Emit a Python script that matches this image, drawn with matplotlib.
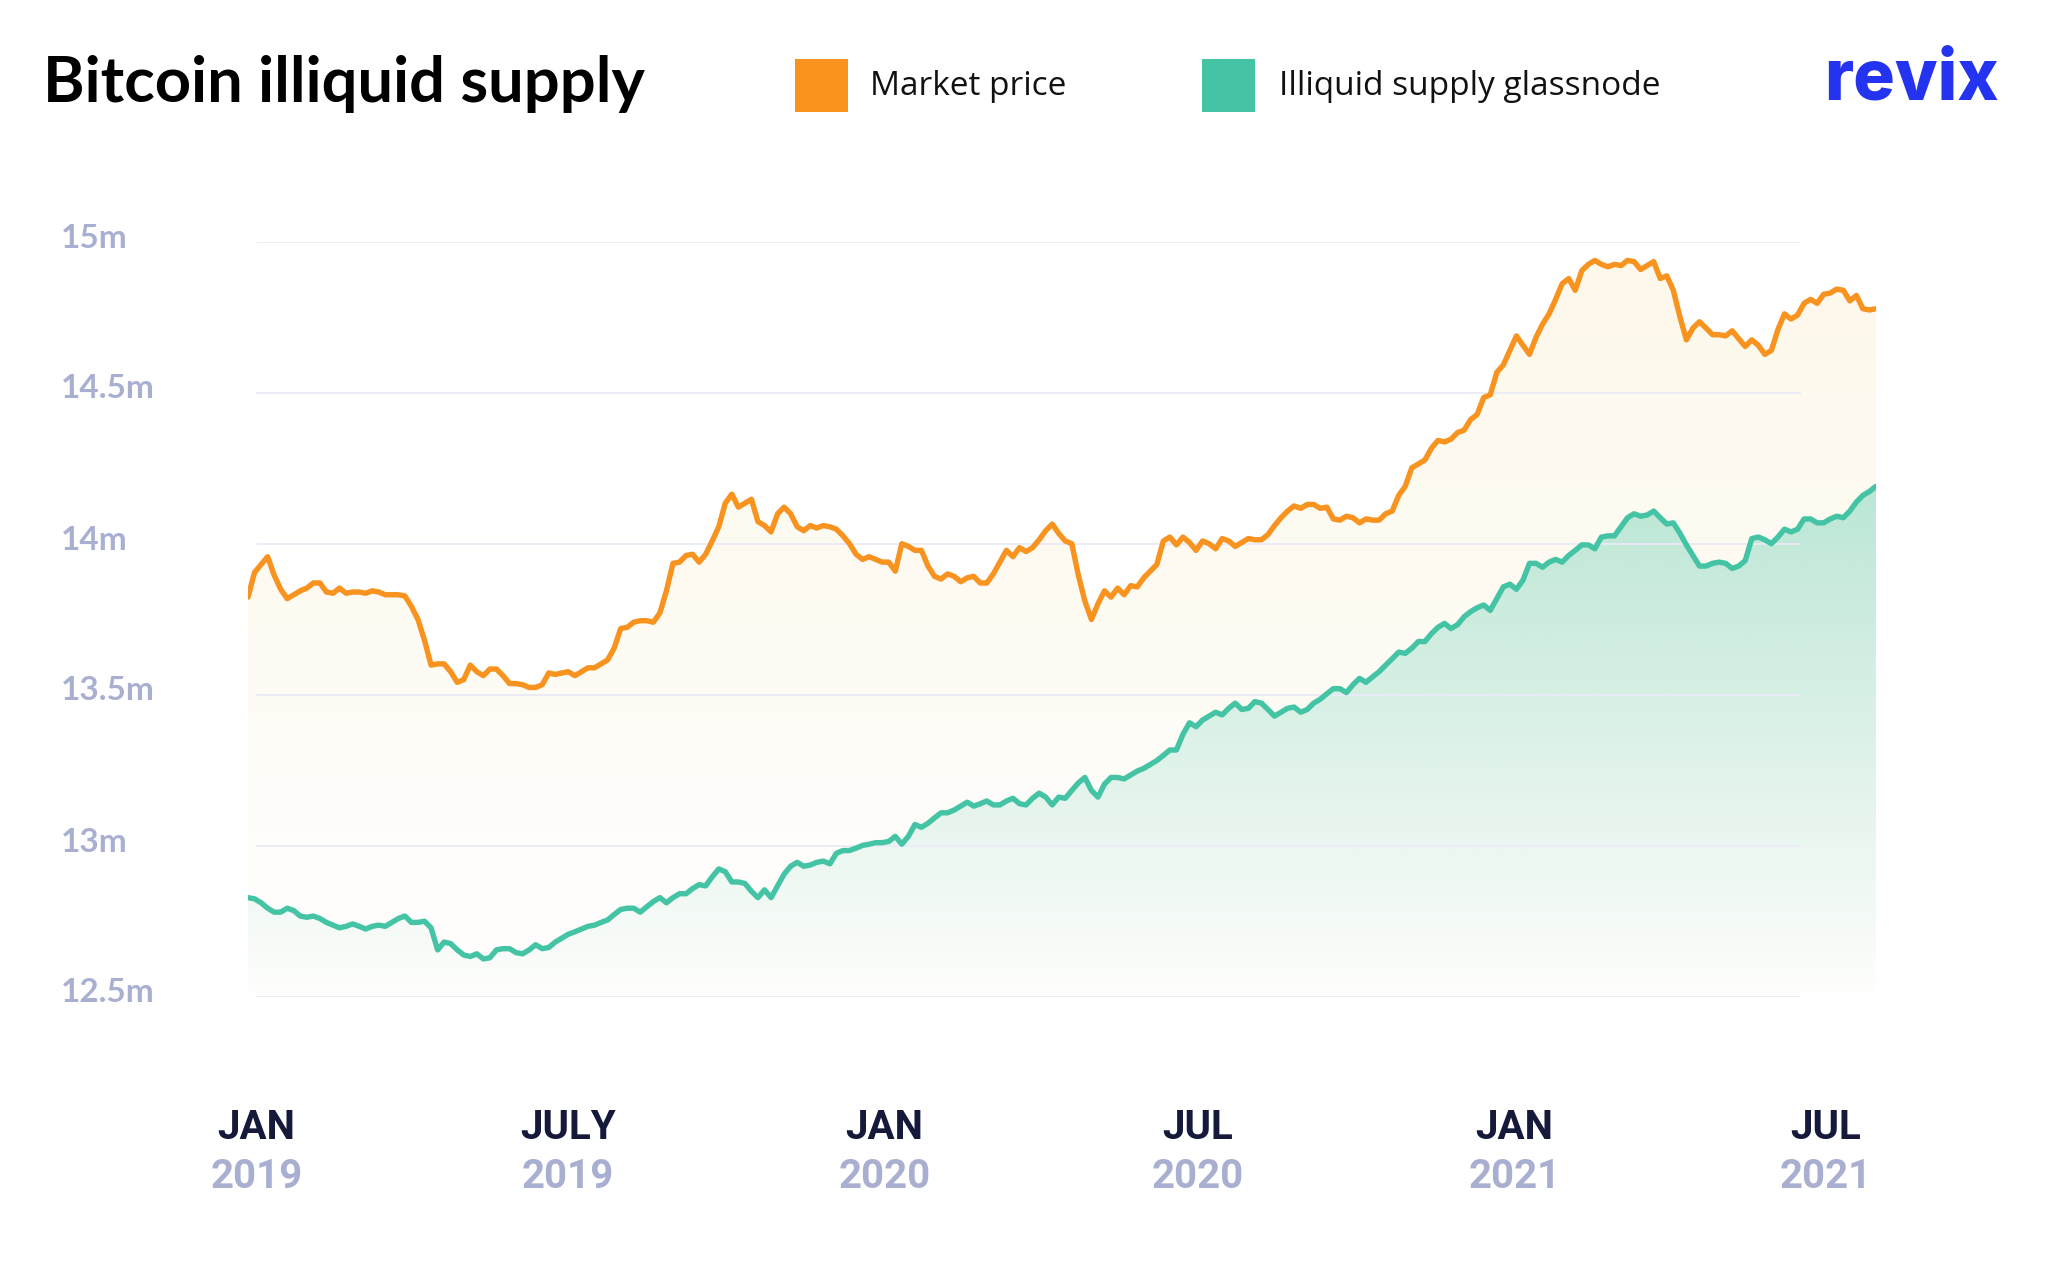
import numpy as np
import pandas as pd
import matplotlib
matplotlib.use('Agg')
import matplotlib.pyplot as plt
import matplotlib.dates as mdates
import matplotlib.colors as mcolors
from matplotlib.transforms import blended_transform_factory, offset_copy
from matplotlib.patches import Rectangle

# ---------------- data ----------------
start_date = '2018-12-27'
end_date = '2021-07-30'

market_price = [
    13.824, 13.906, 13.932, 13.958, 13.897, 13.850, 13.819, 13.832, 13.845, 13.854,
    13.871, 13.871, 13.841, 13.837, 13.854, 13.837, 13.841, 13.841, 13.837, 13.845,
    13.841, 13.832, 13.832, 13.832, 13.828, 13.793, 13.750, 13.681, 13.599, 13.603,
    13.603, 13.577, 13.542, 13.551, 13.599, 13.577, 13.564, 13.586, 13.586, 13.564,
    13.538, 13.538, 13.534, 13.525, 13.525, 13.534, 13.573, 13.568, 13.573, 13.577,
    13.564, 13.577, 13.590, 13.590, 13.603, 13.616, 13.655, 13.720, 13.724, 13.741,
    13.746, 13.746, 13.741, 13.772, 13.845, 13.936, 13.940, 13.962, 13.966, 13.940,
    13.966, 14.010, 14.057, 14.135, 14.165, 14.122, 14.135, 14.148, 14.074, 14.061,
    14.040, 14.100, 14.122, 14.100, 14.057, 14.044, 14.061, 14.053, 14.061, 14.057,
    14.049, 14.027, 14.001, 13.966, 13.949, 13.958, 13.949, 13.940, 13.940, 13.910,
    14.001, 13.992, 13.979, 13.979, 13.927, 13.893, 13.884, 13.901, 13.893, 13.875,
    13.888, 13.893, 13.871, 13.871, 13.901, 13.940, 13.979, 13.958, 13.988, 13.975,
    13.988, 14.014, 14.044, 14.066, 14.035, 14.010, 14.001, 13.897, 13.811, 13.750,
    13.802, 13.845, 13.824, 13.854, 13.832, 13.862, 13.858, 13.888, 13.910, 13.932,
    14.010, 14.023, 13.997, 14.023, 14.005, 13.979, 14.010, 14.001, 13.984, 14.018,
    14.010, 13.992, 14.005, 14.018, 14.014, 14.014, 14.031, 14.061, 14.087, 14.109,
    14.126, 14.118, 14.131, 14.131, 14.118, 14.122, 14.083, 14.079, 14.092, 14.087,
    14.070, 14.083, 14.079, 14.079, 14.100, 14.109, 14.161, 14.191, 14.252, 14.265,
    14.278, 14.317, 14.343, 14.338, 14.347, 14.369, 14.377, 14.412, 14.429, 14.485,
    14.494, 14.568, 14.593, 14.641, 14.689, 14.658, 14.628, 14.684, 14.728, 14.762,
    14.810, 14.862, 14.879, 14.840, 14.905, 14.926, 14.939, 14.926, 14.918, 14.926,
    14.922, 14.939, 14.935, 14.909, 14.922, 14.935, 14.879, 14.888, 14.840, 14.753,
    14.676, 14.715, 14.736, 14.715, 14.693, 14.693, 14.689, 14.706, 14.680, 14.654,
    14.676, 14.658, 14.628, 14.641, 14.710, 14.762, 14.745, 14.758, 14.797, 14.810,
    14.797, 14.827, 14.831, 14.844, 14.840, 14.805, 14.823, 14.779, 14.775, 14.779,
]

illiquid_supply = [
    12.829, 12.825, 12.812, 12.794, 12.781, 12.781, 12.794, 12.786, 12.768, 12.764,
    12.768, 12.760, 12.747, 12.738, 12.729, 12.734, 12.742, 12.734, 12.725, 12.734,
    12.738, 12.734, 12.747, 12.760, 12.768, 12.747, 12.747, 12.751, 12.729, 12.656,
    12.682, 12.677, 12.656, 12.639, 12.634, 12.643, 12.626, 12.630, 12.656, 12.660,
    12.660, 12.647, 12.643, 12.656, 12.673, 12.660, 12.664, 12.682, 12.695, 12.708,
    12.716, 12.725, 12.734, 12.738, 12.747, 12.755, 12.773, 12.790, 12.794, 12.794,
    12.781, 12.799, 12.816, 12.829, 12.812, 12.829, 12.842, 12.842, 12.859, 12.872,
    12.868, 12.898, 12.924, 12.915, 12.881, 12.881, 12.876, 12.850, 12.829, 12.855,
    12.829, 12.868, 12.907, 12.933, 12.946, 12.933, 12.937, 12.946, 12.950, 12.941,
    12.976, 12.985, 12.985, 12.993, 13.002, 13.006, 13.011, 13.011, 13.015, 13.032,
    13.006, 13.032, 13.071, 13.062, 13.075, 13.093, 13.110, 13.110, 13.119, 13.132,
    13.145, 13.132, 13.140, 13.149, 13.136, 13.136, 13.149, 13.158, 13.140, 13.136,
    13.158, 13.175, 13.162, 13.136, 13.162, 13.158, 13.184, 13.209, 13.227, 13.184,
    13.162, 13.205, 13.227, 13.227, 13.222, 13.235, 13.248, 13.257, 13.270, 13.283,
    13.300, 13.318, 13.318, 13.370, 13.408, 13.395, 13.417, 13.430, 13.443, 13.434,
    13.456, 13.473, 13.452, 13.456, 13.478, 13.473, 13.452, 13.430, 13.443, 13.456,
    13.460, 13.443, 13.452, 13.473, 13.486, 13.504, 13.521, 13.521, 13.508, 13.534,
    13.555, 13.542, 13.560, 13.577, 13.599, 13.620, 13.642, 13.638, 13.655, 13.677,
    13.677, 13.703, 13.724, 13.737, 13.720, 13.733, 13.759, 13.776, 13.789, 13.798,
    13.780, 13.819, 13.858, 13.867, 13.850, 13.880, 13.936, 13.936, 13.923, 13.940,
    13.949, 13.940, 13.962, 13.979, 13.997, 13.997, 13.984, 14.023, 14.027, 14.027,
    14.057, 14.087, 14.100, 14.092, 14.096, 14.109, 14.087, 14.066, 14.070, 14.036,
    13.997, 13.962, 13.927, 13.927, 13.936, 13.940, 13.936, 13.919, 13.927, 13.945,
    14.018, 14.023, 14.014, 14.001, 14.023, 14.049, 14.040, 14.049, 14.083, 14.083,
    14.070, 14.070, 14.083, 14.092, 14.087, 14.109, 14.139, 14.161, 14.174, 14.191,
]

y_ticks = [15, 14.5, 14, 13.5, 13, 12.5]
y_tick_labels = ['15m', '14.5m', '14m', '13.5m', '13m', '12.5m']
x_tick_dates = ['2019-01-01', '2019-07-01', '2020-01-01', '2020-07-01', '2021-01-01', '2021-07-01']
x_tick_months = ['JAN', 'JULY', 'JAN', 'JUL', 'JAN', 'JUL']
x_tick_years = ['2019', '2019', '2020', '2020', '2021', '2021']

title = 'Bitcoin illiquid supply'
legend_labels = ['Market price', 'Illiquid supply glassnode']
logo_text = 'revix'

# ---------------- style ----------------
ORANGE = '#F7931E'
CREAM = '#F0BE3C'
TEAL = '#44C4A5'
GRID = '#EAEAF7'
LAVENDER = '#A9AFD0'
NAVY = '#15193A'
BLUE = '#2433F0'

n = min(len(market_price), len(illiquid_supply))
market_price = np.array(market_price[:n])
illiquid_supply = np.array(illiquid_supply[:n])
dates = pd.date_range(start_date, end_date, periods=n)
xn = mdates.date2num(dates)

W, H = 2048, 1266
fig = plt.figure(figsize=(W / 100, H / 100), dpi=100)
fig.patch.set_facecolor('white')

ax_left, ax_right, ax_top, ax_bottom = 248, 1876, 242, 997
ax = fig.add_axes([ax_left / W, 1 - ax_bottom / H, (ax_right - ax_left) / W, (ax_bottom - ax_top) / H])
ax.axis('off')

y_lo, y_hi = 12.5, 15.0


def gradient_fill(x, y, color, a_top, a_bottom, zorder):
    poly = ax.fill_between(x, y, y_lo, facecolor='none', edgecolor='none', zorder=zorder)
    rgb = mcolors.to_rgb(color)
    m = 400
    img = np.zeros((m, 2, 4))
    img[:, :, 0] = rgb[0]
    img[:, :, 1] = rgb[1]
    img[:, :, 2] = rgb[2]
    img[:, :, 3] = np.linspace(a_top, a_bottom, m)[:, None]
    im = ax.imshow(img, aspect='auto', extent=[x[0], x[-1], y_lo, y_hi],
                   origin='upper', zorder=zorder, interpolation='bilinear')
    im.set_clip_path(poly.get_paths()[0], transform=ax.transData)


gradient_fill(xn, market_price, CREAM, 0.11, 0.01, 1)
gradient_fill(xn, illiquid_supply, TEAL, 0.53, 0.0, 2)

for yt in y_ticks:
    ax.axhline(yt, xmin=(257 - ax_left) / (ax_right - ax_left),
               xmax=(1800 - ax_left) / (ax_right - ax_left),
               color=GRID, lw=1.3, zorder=3)

ax.plot(xn, market_price, color=ORANGE, lw=3.9, solid_joinstyle='round',
        solid_capstyle='round', zorder=5)
ax.plot(xn, illiquid_supply, color=TEAL, lw=3.9, solid_joinstyle='round',
        solid_capstyle='round', zorder=6)

ax.set_xlim(xn[0], xn[-1])
ax.set_ylim(y_lo, y_hi)

# y tick labels
ytrans = offset_copy(blended_transform_factory(fig.transFigure, ax.transData),
                     fig=fig, x=0, y=4, units='dots')
for yt, lab in zip(y_ticks, y_tick_labels):
    ax.text(61 / W, yt, lab, transform=ytrans, ha='left', va='center',
            fontsize=24, fontweight='bold', color=LAVENDER, family=['Lato', 'DejaVu Sans'])

# x tick labels
xtrans = blended_transform_factory(ax.transData, fig.transFigure)
for d, mth, yr in zip(x_tick_dates, x_tick_months, x_tick_years):
    xd = mdates.date2num(pd.Timestamp(d))
    ax.text(xd, 1 - 1139 / H, mth, transform=xtrans, ha='center', va='baseline',
            fontsize=29, fontweight='bold', color=NAVY,
            family=['Roboto', 'DejaVu Sans'])
    ax.text(xd, 1 - 1188 / H, yr, transform=xtrans, ha='center', va='baseline',
            fontsize=29, fontweight='bold', color=LAVENDER,
            family=['Roboto', 'DejaVu Sans'])

# title
fig.text(43 / W, 1 - 102 / H, title, ha='left', va='baseline', fontsize=45.5,
         fontweight='bold', color='black', family=['Lato', 'DejaVu Sans'])

# legend
for (x0, col, lab, tx) in [(795, ORANGE, legend_labels[0], 870),
                           (1202, TEAL, legend_labels[1], 1279)]:
    fig.add_artist(Rectangle((x0 / W, 1 - 112 / H), 53 / W, 53 / H,
                             transform=fig.transFigure, facecolor=col, edgecolor='none'))
    fig.text(tx / W, 1 - 95 / H, lab, ha='left', va='baseline', fontsize=24,
             fontweight='normal', color='#111111', family=['Open Sans', 'DejaVu Sans'])

# logo
fig.text(1999 / W, 1 - 100 / H, logo_text, ha='right', va='baseline', fontsize=50,
         fontweight='heavy', color=BLUE, family=['Inter', 'DejaVu Sans'])

fig.savefig('out.png', dpi=100, facecolor='white')
